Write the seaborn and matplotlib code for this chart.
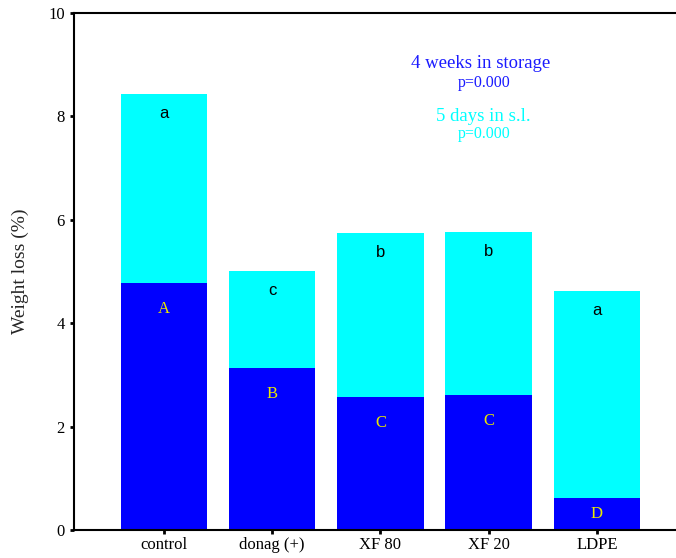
import matplotlib
matplotlib.use('Agg')
import matplotlib.pyplot as plt
import numpy as np
import pandas as pd
import seaborn as sns

# Values
treatments = ['control', 'donag (+)', 'XF 80', 'XF 20', 'LDPE']
storage_loss = [4.78, 3.13, 2.57, 2.61, 0.62]      # 4 weeks in storage
total_loss = [8.43, 5.01, 5.74, 5.76, 4.62]        # after 5 days in s.l.
shelf_letters = ['a', 'c', 'b', 'b', 'a']
storage_letters = ['A', 'B', 'C', 'C', 'D']

data = pd.DataFrame({'treatment': treatments,
                     'storage': storage_loss,
                     'total': total_loss})

sns.set_style('ticks')
plt.rcParams['font.family'] = ['Liberation Serif', 'DejaVu Serif']

fig = plt.figure(figsize=(6.76, 5.58), dpi=100)
ax = fig.add_axes([74 / 676, 28 / 558, 602 / 676, 517 / 558])

# Stacked bars: draw the total in cyan, then storage loss in blue over it
sns.barplot(data=data, x='treatment', y='total', color='#00ffff',
            saturation=1, width=0.8, linewidth=0, ax=ax)
sns.barplot(data=data, x='treatment', y='storage', color='#0000ff',
            saturation=1, width=0.8, linewidth=0, ax=ax)

# Letters of significance
for i, row in data.iterrows():
    ax.text(i, row['total'] - 0.38, shelf_letters[i], ha='center', va='center',
            fontsize=12, color='black', family='Liberation Sans')
    ax.text(i, max(row['storage'] - 0.5, row['storage'] / 2), storage_letters[i],
            ha='center', va='center', fontsize=12, color='#e8e800')

ax.set_xlim(-0.83, 4.73)
ax.set_ylim(0, 10)
ax.set_yticks([0, 2, 4, 6, 8, 10])
ax.set_xlabel('')
ax.set_ylabel('Weight loss (%)', fontsize=14, labelpad=14)
ax.tick_params(axis='both', direction='out', length=3, width=2, labelsize=12, colors='black')
ax.tick_params(axis='x', pad=2)

for side in ['left', 'bottom', 'top']:
    ax.spines[side].set_linewidth(1.5)
    ax.spines[side].set_color('black')
ax.spines['right'].set_visible(False)

# Legend-like annotations
ax.text(2.93, 9.03, '4 weeks in storage', ha='center', va='center', fontsize=13.5, color='#1a1aff')
ax.text(2.96, 8.65, 'p=0.000', ha='center', va='center', fontsize=11.5, color='#1a1aff')
ax.text(2.95, 7.99, '5 days in s.l.', ha='center', va='center', fontsize=13.5, color='#00ffff')
ax.text(2.96, 7.66, 'p=0.000', ha='center', va='center', fontsize=11.5, color='#00ffff')

fig.savefig('out.png', dpi=100)
